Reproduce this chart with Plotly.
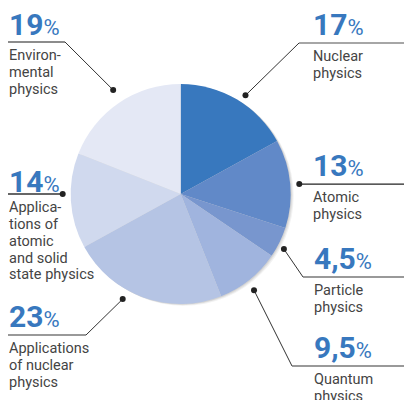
import math
import plotly.graph_objects as go

# ---- data ----
categories = ["Nuclear physics", "Atomic physics", "Particle physics", "Quantum physics",
              "Applications of nuclear physics", "Applications of atomic and solid state physics",
              "Environmental physics"]
values = [17, 13, 4.5, 9.5, 23, 14, 19]
pct_labels = ["17", "13", "4,5", "9,5", "23", "14", "19"]
text_lines = [
    ["Nuclear", "physics"],
    ["Atomic", "physics"],
    ["Particle", "physics"],
    ["Quantum", "physics"],
    ["Applications", "of nuclear", "physics"],
    ["Applica-", "tions of", "atomic", "and solid", "state physics"],
    ["Environ-", "mental", "physics"],
]
colors = ["#3878BE", "#6189C8", "#7896CE", "#A0B4DE", "#B5C4E4", "#D0D9EE", "#E4E8F5"]

# ---- layout (screen pixels) ----
SW, SH = 412, 400          # visible window
OFF = 8                    # page body margin offsets the plot
W, H = SW - OFF, SH - OFF  # figure size so the plot fits the window
CX, CY, R = 180.7, 194, 110
FONT = "Roboto"
BLUE = "#3878BE"
TXT = "#444444"
BODY_SIZE = 14.5
LINE_BOX = BODY_SIZE * 1.3

place = [
    dict(off=2.7, r=118, elbow=(299, 43), end=412, tx=312, base=36, ucol="#888888"),
    dict(off=0.6, r=119, elbow=None, end=412, tx=312, base=177, ucol="#222222"),
    dict(off=2.0, r=117, elbow=(303, 277), end=412, tx=313, base=270, ucol="#777777"),
    dict(off=1.4, r=121, elbow=(292, 366), end=412, tx=313, base=359, ucol="#777777"),
    dict(off=9.1, r=120, elbow=(86, 335), end=8, tx=8, base=328, ucol="#777777"),
    dict(off=3.6, r=118, elbow=None, end=8, tx=8, base=193, ucol="#333333"),
    dict(off=1.2, r=124, elbow=(65, 42), end=8, tx=8, base=36, ucol="#666666"),
]

fig = go.Figure()
fig.add_trace(go.Pie(
    labels=categories, values=values, sort=False, direction="clockwise", rotation=0,
    marker=dict(colors=colors, line=dict(width=0)), textinfo="none", hoverinfo="label+percent",
    showlegend=False,
    domain=dict(x=[(CX - R - OFF) / W, (CX + R - OFF) / W],
                y=[(SH - CY - R) / H, (SH - CY + R) / H]),
))

total = sum(values)
cum = 0
shapes = []
annotations = []
for i, v in enumerate(values):
    mid = (cum + v / 2) / total * 360
    cum += v
    p = place[i]
    a = math.radians(mid + p["off"])
    dx, dy = CX + p["r"] * math.sin(a), CY - p["r"] * math.cos(a)
    uy = p["elbow"][1] if p["elbow"] else dy
    if p["elbow"]:
        fig.add_trace(go.Scatter(x=[dx, p["elbow"][0]], y=[dy, p["elbow"][1]], mode="lines",
                                 line=dict(color="#333333", width=1), hoverinfo="skip", showlegend=False))
        sx = p["elbow"][0]
    else:
        sx = dx
    fig.add_trace(go.Scatter(x=[sx, p["end"]], y=[uy, uy], mode="lines",
                             line=dict(color=p["ucol"], width=1.3), hoverinfo="skip", showlegend=False))
    fig.add_trace(go.Scatter(x=[dx], y=[dy], mode="markers",
                             marker=dict(color="#222222", size=6), hoverinfo="skip", showlegend=False))
    annotations.append(dict(
        x=p["tx"], y=p["base"] + 7, xref="x", yref="y", xanchor="left", yanchor="bottom",
        text=f"<b>{pct_labels[i]}</b><span style='font-size:22px;font-weight:normal'>%</span>",
        showarrow=False, font=dict(family=FONT, size=30, color=BLUE), borderpad=0,
    ))
    for j, line in enumerate(text_lines[i]):
        annotations.append(dict(
            x=p["tx"], y=uy + 23 + j * 16.8 - LINE_BOX, xref="x", yref="y",
            xanchor="left", yanchor="top",
            text=line, showarrow=False, font=dict(family=FONT, size=BODY_SIZE, color=TXT), borderpad=0,
        ))

for k, op in [(3, 0.05), (2, 0.06), (1, 0.07)]:
    shapes.append(dict(type="circle", xref="x", yref="y", layer="below",
                       x0=CX - R + k, x1=CX + R + k, y0=CY - R + k * 0.6, y1=CY + R + k * 0.6,
                       fillcolor=f"rgba(0,0,0,{op})", line=dict(width=0)))

fig.update_layout(
    width=W, height=H, margin=dict(l=0, r=0, t=0, b=0),
    paper_bgcolor="white", plot_bgcolor="white",
    xaxis=dict(range=[OFF, SW], visible=False, fixedrange=True),
    yaxis=dict(range=[SH, OFF], visible=False, fixedrange=True),
    shapes=shapes, annotations=annotations, showlegend=False,
)
fig.write_html("out.html")
